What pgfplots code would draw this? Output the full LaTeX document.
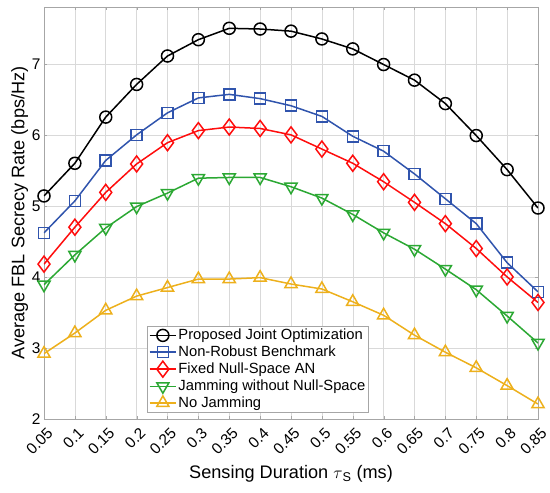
\documentclass[border=0pt]{standalone}
\usepackage{pgfplots}
\pgfplotsset{compat=1.18}
\usepackage{fontspec}
\setmainfont{Liberation Sans}
\definecolor{cblue}{rgb}{0.19,0.33,0.68}
\definecolor{cred}{rgb}{1.0,0.05,0.05}
\definecolor{cgreen}{rgb}{0.17,0.66,0.2}
\definecolor{cyellow}{rgb}{0.93,0.69,0.11}
\begin{document}
\begin{tikzpicture}
\begin{axis}[
  scale only axis,
  width=494bp, height=412bp,
  xmin=0.05, xmax=0.85, ymin=2, ymax=7.8,
  xtick={0.05,0.1,0.15,0.2,0.25,0.3,0.35,0.4,0.45,0.5,0.55,0.6,0.65,0.7,0.75,0.8,0.85},
  xticklabels={0.05,0.1,0.15,0.2,0.25,0.3,0.35,0.4,0.45,0.5,0.55,0.6,0.65,0.7,0.75,0.8,0.85},
  ytick={2,3,4,5,6,7},
  grid=major,
  major grid style={gray!30, line width=0.5bp},
  axis line style={gray!70, line width=0.6bp},
  tick style={gray!70},
  tick align=inside,
  major tick length=3bp,
  tick label style={font=\fontsize{15.5}{17}\selectfont},
  /pgf/number format/assume math mode=true,
  xticklabel style={xshift=8.5bp, yshift=-9bp, rotate=45, anchor=east},
  xlabel={Sensing Duration $\tau$\textsubscript{S} (ms)},
  ylabel={Average FBL Secrecy Rate (bps/Hz)},
  label style={font=\fontsize{18.2}{20}\selectfont},
  xlabel style={yshift=-2bp},
  ylabel style={yshift=-3bp},
  legend style={at={(0.2085,0.2257)}, anchor=north west, draw=gray!70, line width=0.6bp,
    font=\fontsize{14.8}{17}\selectfont, row sep=1.5bp, inner sep=1.5bp,
    nodes={inner sep=1.5bp}},
  legend cell align=left,
  legend image code/.code={\draw[mark repeat=2,mark phase=2] plot coordinates {(0cm,0cm) (0.47cm,0cm) (0.94cm,0cm)};},
  every axis plot/.append style={line width=1.5bp, mark options={solid, line width=1.5bp, fill=white}},
]
\addplot[black, mark=o, mark size=6bp] coordinates {
(0.05,5.14) (0.1,5.60) (0.15,6.25) (0.2,6.71) (0.25,7.11) (0.3,7.34) (0.35,7.50) (0.4,7.49) (0.45,7.46)
(0.5,7.35) (0.55,7.21) (0.6,6.99) (0.65,6.77) (0.7,6.44) (0.75,5.99) (0.8,5.51) (0.85,4.97)};
\addlegendentry{Proposed Joint Optimization}
\addplot[cblue, mark=square, mark size=5.5bp] coordinates {
(0.05,4.62) (0.1,5.07) (0.15,5.64) (0.2,6.00) (0.25,6.31) (0.3,6.52) (0.35,6.57) (0.4,6.51) (0.45,6.41)
(0.5,6.26) (0.55,5.98) (0.6,5.77) (0.65,5.45) (0.7,5.10) (0.75,4.75) (0.8,4.20) (0.85,3.79)};
\addlegendentry{Non-Robust Benchmark}
\addplot[cred, mark=diamond, mark size=8bp] coordinates {
(0.05,4.18) (0.1,4.70) (0.15,5.19) (0.2,5.59) (0.25,5.89) (0.3,6.06) (0.35,6.11) (0.4,6.09) (0.45,6.00)
(0.5,5.80) (0.55,5.60) (0.6,5.34) (0.65,5.05) (0.7,4.75) (0.75,4.40) (0.8,4.00) (0.85,3.64)};
\addlegendentry{Fixed Null-Space AN}
\addplot[cgreen, mark=triangle, mark size=7bp, mark options={rotate=180}] coordinates {
(0.05,3.89) (0.1,4.31) (0.15,4.69) (0.2,4.99) (0.25,5.18) (0.3,5.39) (0.35,5.40) (0.4,5.40) (0.45,5.27)
(0.5,5.11) (0.55,4.88) (0.6,4.62) (0.65,4.39) (0.7,4.11) (0.75,3.82) (0.8,3.45) (0.85,3.07)};
\addlegendentry{Jamming without Null-Space}
\addplot[cyellow, mark=triangle, mark size=7bp] coordinates {
(0.05,2.92) (0.1,3.21) (0.15,3.53) (0.2,3.73) (0.25,3.85) (0.3,3.97) (0.35,3.97) (0.4,3.99) (0.45,3.90)
(0.5,3.83) (0.55,3.65) (0.6,3.46) (0.65,3.18) (0.7,2.94) (0.75,2.72) (0.8,2.47) (0.85,2.21)};
\addlegendentry{No Jamming}
\coordinate (sw) at (rel axis cs:0,0);
\coordinate (ne) at (rel axis cs:1,1);
\end{axis}
\pgfresetboundingbox
\path[use as bounding box] ([shift={(-44bp,-74bp)}]sw) rectangle ([shift={(12bp,7bp)}]ne);
\end{tikzpicture}
\end{document}
